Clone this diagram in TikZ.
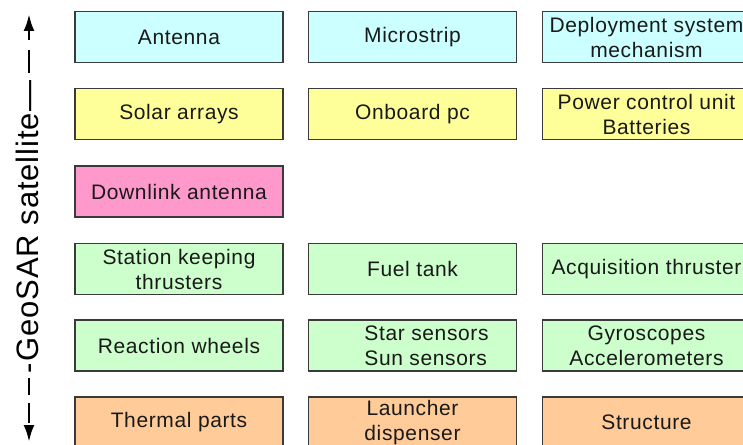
\documentclass[tikz,border=0pt]{standalone}
\usepackage{fontspec}
\setmainfont{Liberation Sans}[LetterSpace=3.0]
\usetikzlibrary{arrows.meta}
\definecolor{cyanbox}{HTML}{CCFFFF}
\definecolor{yellowbox}{HTML}{FFFF99}
\definecolor{pinkbox}{HTML}{FF99CC}
\definecolor{greenbox}{HTML}{CCFFCC}
\definecolor{orangebox}{HTML}{FFCC99}
\definecolor{boxline}{HTML}{3A3A3A}
\begin{document}
\begin{tikzpicture}[x=1pt,y=-1pt,
  box/.style={draw=boxline, line width=1.3pt, minimum width=208pt, minimum height=51pt,
    inner sep=0pt, align=center, text=black!90, font=\fontsize{21}{25}\selectfont},
  cy/.style={box, fill=cyanbox},
  ye/.style={box, fill=yellowbox},
  pk/.style={box, fill=pinkbox},
  gr/.style={box, fill=greenbox},
  orb/.style={box, fill=orangebox},
  sidearrow/.style={line width=2.8pt, -{Latex[length=17pt,width=11pt]}},
  sidelabel/.style={rotate=90, inner sep=0pt, font=\fontsize{31}{35}\selectfont}
]
\useasboundingbox (0,0) rectangle (743,444);
\clip (0,0) rectangle (743,444);
\fill[white] (0,0) rectangle (743,444);

% column 1
\node[cy] (antenna) at (179,37) {Antenna};
\node[ye] (solar) at (179,114) {Solar arrays};
\node[pk] (downlink) at (179,191.5) {Downlink antenna};
\node[gr] (station) at (179,269) {Station keeping\\thrusters};
\node[gr] (reaction) at (179,345.5) {Reaction wheels};
\node[orb] (thermal) at (179,422.5) {Thermal parts};
% column 2
\node[cy] (microstrip) at (412.5,37) {Microstrip};
\node[ye] (onboard) at (412.5,114) {Onboard pc};
\node[gr] (fuel) at (412.5,269) {Fuel tank};
\node[gr, align=left] (star) at (412.5,345.5) {\hspace*{28pt}Star sensors\\\hspace*{28pt}Sun sensors};
\node[orb] (launcher) at (412.5,422.5) {Launcher\\dispenser};
% column 3
\node[cy] (deploy) at (646.5,37) {Deployment system\\mechanism};
\node[ye] (power) at (646.5,114) {Power control unit\\Batteries};
\node[gr] (acq) at (646.5,269) {Acquisition thruster};
\node[gr] (gyro) at (646.5,345.5) {Gyroscopes\\Accelerometers};
\node[orb] (structure) at (646.5,422.5) {Structure};

% side label with arrows
\node[sidelabel] (lbl) at (27,227) {-GeoSAR satellite—};
\coordinate (toptip) at (29,14);
\coordinate (bottip) at (29,442);
\draw[sidearrow, dash pattern=on 0pt off 8pt on 23pt off 10pt on 100pt] (lbl.east -| toptip) -- (toptip);
\draw[sidearrow, dash pattern=on 0pt off 5pt on 17pt off 8pt on 20pt off 8pt on 100pt] (lbl.west -| bottip) -- (bottip);
\end{tikzpicture}
\end{document}
